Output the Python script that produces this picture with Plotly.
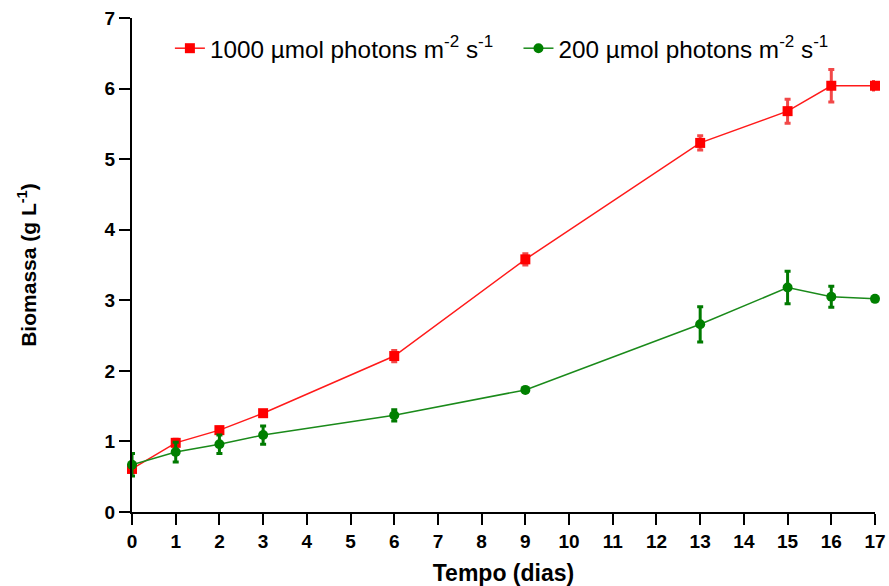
import plotly.graph_objects as go

days = [0, 1, 2, 3, 6, 9, 13, 15, 16, 17]
high_light = [0.61, 0.98, 1.16, 1.40, 2.21, 3.58, 5.23, 5.68, 6.04, 6.04]
high_err = [0.05, 0.05, 0.04, 0.03, 0.08, 0.08, 0.10, 0.17, 0.23, 0.06]
low_light = [0.67, 0.85, 0.96, 1.09, 1.37, 1.73, 2.66, 3.18, 3.05, 3.02]
low_err = [0.16, 0.14, 0.13, 0.13, 0.08, 0.02, 0.25, 0.23, 0.15, 0.02]
x_ticks = list(range(0, 18))
y_ticks = list(range(0, 8))

font_family = "Liberation Sans, Arial, sans-serif"

fig = go.Figure()
fig.add_trace(go.Scatter(
    x=days, y=high_light, mode="lines+markers",
    name="1000 µmol photons m<sup>-2</sup> s<sup>-1</sup>&nbsp;&nbsp;&nbsp;",
    line=dict(color="#ff1a1a", width=1.5),
    marker=dict(symbol="square", size=10, color="#ff0000"),
    error_y=dict(type="data", array=high_err, color="rgba(240,40,40,0.85)", thickness=3, width=3),
    cliponaxis=False,
))
fig.add_trace(go.Scatter(
    x=days, y=low_light, mode="lines+markers",
    name="200 µmol photons m<sup>-2</sup> s<sup>-1</sup>",
    line=dict(color="#1a8a1a", width=1.5),
    marker=dict(symbol="circle", size=10, color="#008000"),
    error_y=dict(type="data", array=low_err, color="#007a00", thickness=3, width=3),
    cliponaxis=False,
))

fig.update_layout(
    width=889, height=586,
    margin=dict(l=132, r=14, t=18, b=74, autoexpand=False),
    plot_bgcolor="white", paper_bgcolor="white",
    font=dict(family=font_family, color="black"),
    showlegend=True,
    legend=dict(orientation="h", x=0.051, y=0.984, xanchor="left", yanchor="top",
                font=dict(size=24.3, family=font_family), bgcolor="rgba(0,0,0,0)",
                itemwidth=30, tracegroupgap=0),
    xaxis=dict(range=[0, 17], tickvals=x_ticks, ticktext=[str(v) for v in x_ticks],
               automargin=False, ticklabeloverflow="allow",
               showgrid=False, zeroline=False, showline=True, linecolor="black", linewidth=2,
               ticks="outside", ticklen=11, tickwidth=2, tickcolor="black",
               tickfont=dict(size=19, family=font_family, weight="bold"),
               title=dict(text="<b>Tempo (dias)</b>", font=dict(size=23), standoff=15)),
    yaxis=dict(range=[0, 7], tickvals=y_ticks, automargin=False, ticklabeloverflow="allow",
               showgrid=False, zeroline=False, showline=True, linecolor="black", linewidth=2,
               ticks="outside", ticklen=11, tickwidth=2, tickcolor="black",
               tickfont=dict(size=19, family=font_family, weight="bold"),
               title=dict(text="<b>Biomassa (g L<sup>-1</sup>)</b>", font=dict(size=21), standoff=62)),
)

# remove the browser's default 8px body margin so the figure fills the window exactly
fig.write_html("out.html",
               config={"displayModeBar": False},
               post_script="document.body.style.margin='0';document.body.style.overflow='hidden';")
